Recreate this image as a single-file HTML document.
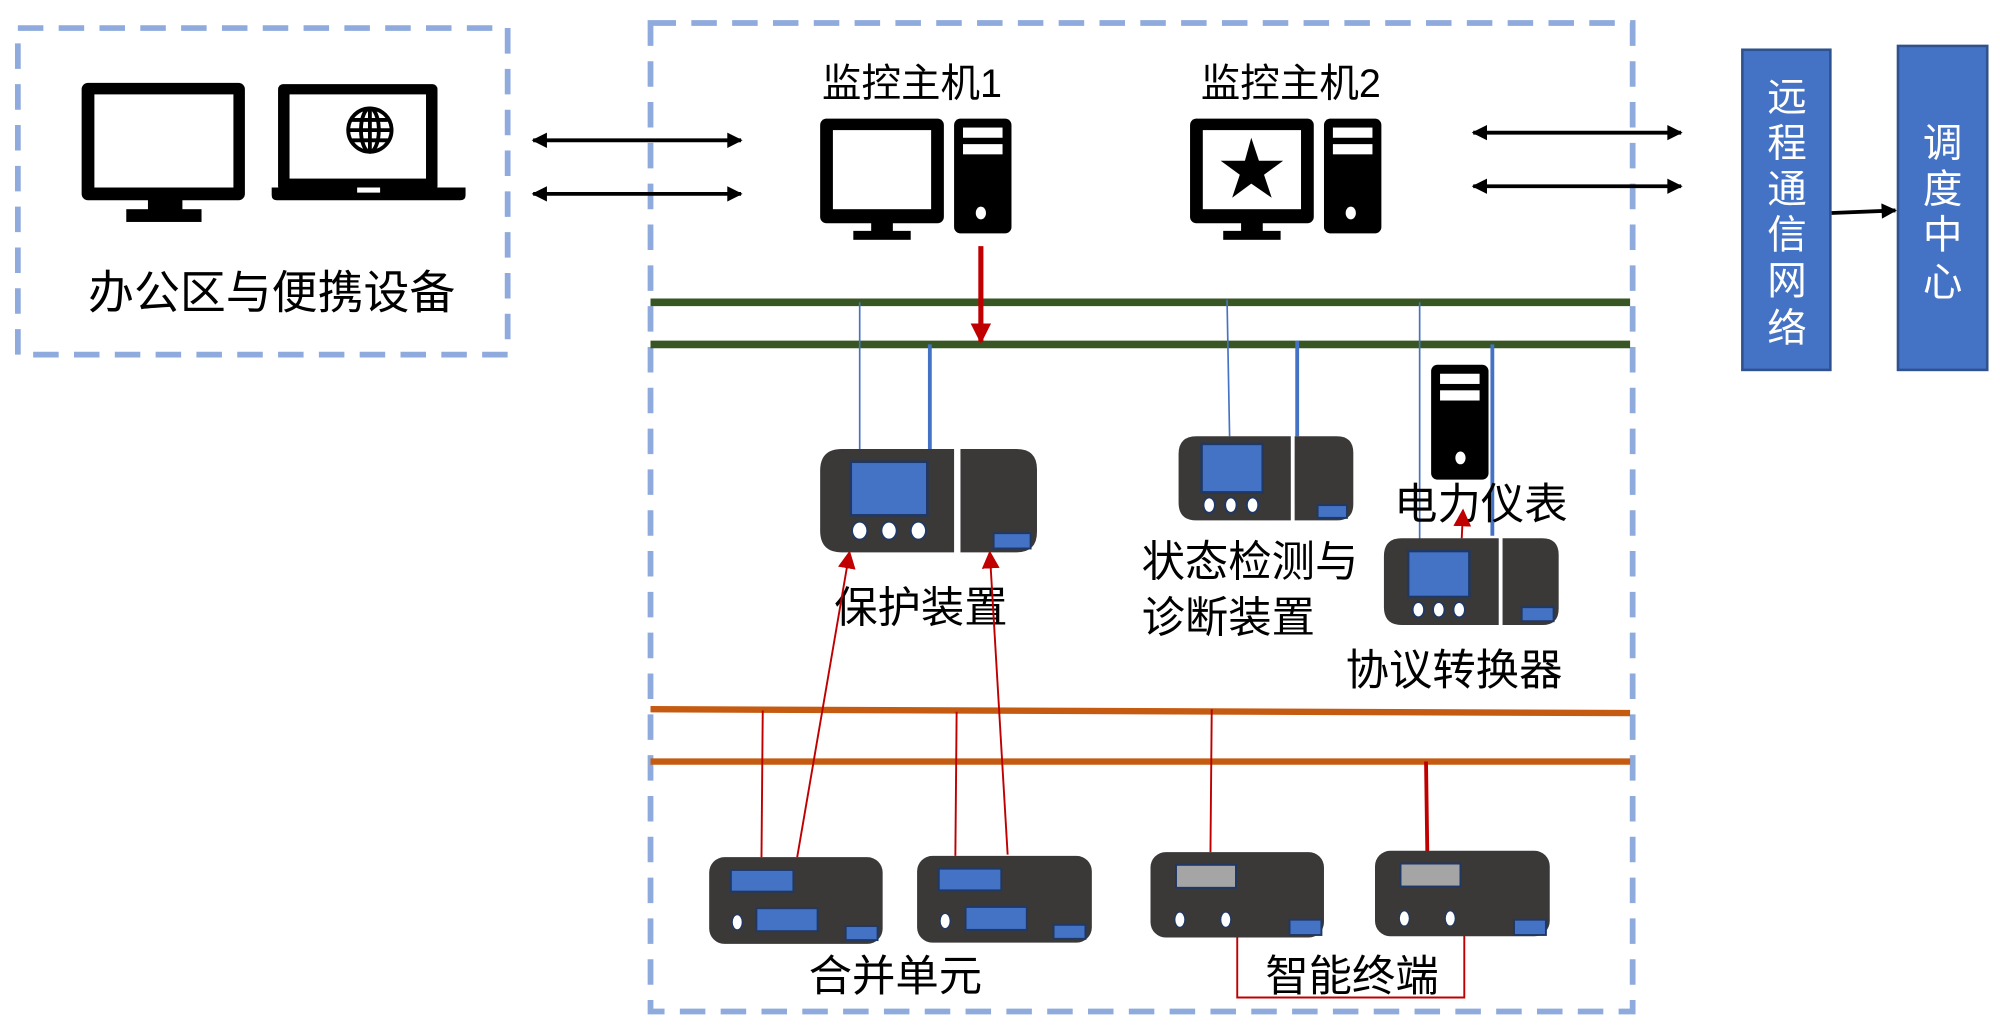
<!DOCTYPE html>
<html><head><meta charset="utf-8"><style>
html,body{margin:0;padding:0;background:#fff;width:2000px;height:1029px;overflow:hidden}
svg{display:block}
text{font-family:"Liberation Sans","Noto Sans CJK SC",sans-serif;fill:#000}
</style></head><body>
<svg width="2000" height="1029" viewBox="0 0 1568 806.7" preserveAspectRatio="none" xmlns="http://www.w3.org/2000/svg">
<defs>
<marker id="ab" viewBox="0 0 10 10" refX="9" refY="5" markerWidth="14" markerHeight="12" orient="auto-start-reverse" markerUnits="userSpaceOnUse"><path d="M0,0L10,5L0,10z" fill="#000"/></marker>
<marker id="ar2" viewBox="0 0 10 10" refX="9" refY="5" markerWidth="14" markerHeight="14" orient="auto" markerUnits="userSpaceOnUse"><path d="M0,0L10,5L0,10z" fill="#C00000"/></marker>
<marker id="ar3" viewBox="0 0 10 10" refX="9" refY="5" markerWidth="20" markerHeight="16" orient="auto" markerUnits="userSpaceOnUse"><path d="M0,0L10,5L0,10z" fill="#C00000"/></marker>
</defs>
<rect x="14" y="22" width="384" height="256" fill="none" stroke="#8FAADC" stroke-width="4.5" stroke-dasharray="20 12"/>
<rect x="510" y="18" width="770" height="775" fill="none" stroke="#8FAADC" stroke-width="4.5" stroke-dasharray="20 12"/>

<rect x="64" y="65" width="128" height="92" rx="5" fill="#000"/>
<rect x="74" y="74" width="109" height="73" fill="#fff"/>
<rect x="116" y="156" width="27" height="10" fill="#000"/>
<rect x="99" y="164" width="59" height="10" fill="#000"/>
<rect x="218" y="66" width="125" height="84" rx="4" fill="#000"/>
<rect x="227" y="74" width="107" height="66" fill="#fff"/>
<path d="M213,147 H365 V153 Q365,157 361,157 H217 Q213,157 213,153z" fill="#000"/>
<rect x="280" y="147" width="18" height="4" fill="#fff"/>
<g fill="none" stroke="#000" stroke-width="3">
<circle cx="290" cy="102" r="17"/><ellipse cx="290" cy="102" rx="7" ry="17"/><line x1="273" y1="102" x2="307" y2="102"/><line x1="276" y1="94" x2="304" y2="94"/><line x1="276" y1="110" x2="304" y2="110"/><line x1="290" y1="85" x2="290" y2="119"/>
</g>
<text x="213" y="242" font-size="36" text-anchor="middle">办公区与便携设备</text>

<line x1="418" y1="110" x2="581" y2="110" stroke="#000" stroke-width="3" marker-start="url(#ab)" marker-end="url(#ab)"/>
<line x1="418" y1="152" x2="581" y2="152" stroke="#000" stroke-width="3" marker-start="url(#ab)" marker-end="url(#ab)"/>
<line x1="1155" y1="104" x2="1318" y2="104" stroke="#000" stroke-width="3" marker-start="url(#ab)" marker-end="url(#ab)"/>
<line x1="1155" y1="146" x2="1318" y2="146" stroke="#000" stroke-width="3" marker-start="url(#ab)" marker-end="url(#ab)"/>

<text x="715" y="76" font-size="31" text-anchor="middle">监控主机1</text>
<text x="1012" y="76" font-size="31" text-anchor="middle">监控主机2</text>
<rect x="643" y="93" width="97" height="82" rx="5" fill="#000"/>
<rect x="653" y="102" width="77" height="62" fill="#fff"/>
<rect x="683" y="174" width="17" height="8" fill="#000"/>
<rect x="669" y="181" width="45" height="7" fill="#000"/>
<rect x="748" y="93" width="45" height="90" rx="5" fill="#000"/>
<rect x="755" y="100" width="31" height="8" fill="#fff"/>
<rect x="755" y="113" width="31" height="8" fill="#fff"/>
<ellipse cx="769" cy="167" rx="4" ry="5" fill="#fff"/>
<rect x="933" y="93" width="97" height="82" rx="5" fill="#000"/>
<rect x="943" y="102" width="77" height="62" fill="#fff"/>
<polygon points="981,108 987,126 1006,126 991,137 997,155 981,144 966,155 972,137 957,126 976,126" fill="#000"/>
<rect x="973" y="174" width="17" height="8" fill="#000"/>
<rect x="959" y="181" width="45" height="7" fill="#000"/>
<rect x="1038" y="93" width="45" height="90" rx="5" fill="#000"/>
<rect x="1045" y="100" width="31" height="8" fill="#fff"/>
<rect x="1045" y="113" width="31" height="8" fill="#fff"/>
<ellipse cx="1059" cy="167" rx="4" ry="5" fill="#fff"/>

<rect x="1366" y="39" width="69" height="251" fill="#4472C4" stroke="#2F528F" stroke-width="2"/>
<rect x="1488" y="36" width="70" height="254" fill="#4472C4" stroke="#2F528F" stroke-width="2"/>
<g font-size="31" text-anchor="middle">
<text x="1401" y="87" style="fill:#fff">远</text><text x="1401" y="123" style="fill:#fff">程</text><text x="1401" y="159" style="fill:#fff">通</text><text x="1401" y="195" style="fill:#fff">信</text><text x="1401" y="231" style="fill:#fff">网</text><text x="1401" y="268" style="fill:#fff">络</text>
<text x="1523" y="123" style="fill:#fff">调</text><text x="1523" y="159" style="fill:#fff">度</text><text x="1523" y="195" style="fill:#fff">中</text><text x="1523" y="232" style="fill:#fff">心</text>
</g>
<line x1="1436" y1="167" x2="1486" y2="165" stroke="#000" stroke-width="3" marker-end="url(#ab)"/>

<line x1="510" y1="237" x2="1278" y2="237" stroke="#375623" stroke-width="6"/>
<line x1="510" y1="270" x2="1278" y2="270" stroke="#375623" stroke-width="6"/>
<line x1="769" y1="193" x2="769" y2="268" stroke="#C00000" stroke-width="4" marker-end="url(#ar3)"/>

<g stroke="#4472C4">
<line x1="674" y1="237" x2="674" y2="352" stroke-width="1.3"/>
<line x1="729" y1="270" x2="729" y2="352" stroke-width="3"/>
<line x1="962" y1="235" x2="964" y2="342" stroke-width="1.3"/>
<line x1="1017" y1="267" x2="1017" y2="342" stroke-width="3"/>
<line x1="1113" y1="237" x2="1113" y2="423" stroke-width="1.3"/>
<line x1="1170" y1="270" x2="1170" y2="420" stroke-width="3"/>
</g>

<path d="M660,352 H748 V433 H660 Q643,433 643,416 V369 Q643,352 660,352z" fill="#3B3838"/>
<path d="M753,352 H797 Q813,352 813,368 V417 Q813,433 797,433 H753z" fill="#3B3838"/>
<rect x="667" y="362" width="60" height="42" fill="#4472C4" stroke="#1F3864" stroke-width="2"/>
<g fill="#fff" stroke="#1F3864" stroke-width="1.5"><ellipse cx="674" cy="416" rx="6" ry="7"/><ellipse cx="697" cy="416" rx="6" ry="7"/><ellipse cx="720" cy="416" rx="6" ry="7"/></g>
<rect x="779" y="418" width="29" height="12" fill="#4472C4" stroke="#1F3864" stroke-width="1.5"/>
<text x="722" y="488" font-size="34" text-anchor="middle">保护装置</text>

<path d="M938,342 H1012 V408 H938 Q924,408 924,394 V356 Q924,342 938,342z" fill="#3B3838"/>
<path d="M1015,342 H1048 Q1061,342 1061,355 V395 Q1061,408 1048,408 H1015z" fill="#3B3838"/>
<rect x="942" y="348" width="48" height="38" fill="#4472C4" stroke="#1F3864" stroke-width="2"/>
<g fill="#fff" stroke="#1F3864" stroke-width="1.5"><ellipse cx="948" cy="396" rx="4.5" ry="6"/><ellipse cx="965" cy="396" rx="4.5" ry="6"/><ellipse cx="982" cy="396" rx="4.5" ry="6"/></g>
<rect x="1033" y="396" width="23" height="10" fill="#4472C4" stroke="#1F3864" stroke-width="1.5"/>
<text x="895" y="452" font-size="34">状态检测与</text>
<text x="895" y="496" font-size="34">诊断装置</text>

<rect x="1122" y="286" width="45" height="90" rx="5" fill="#000"/>
<rect x="1129" y="293" width="31" height="8" fill="#fff"/>
<rect x="1129" y="306" width="31" height="8" fill="#fff"/>
<ellipse cx="1145" cy="359" rx="4" ry="5" fill="#fff"/>
<text x="1161" y="407" font-size="34" text-anchor="middle">电力仪表</text>
<line x1="1146" y1="422" x2="1147" y2="400" stroke="#C00000" stroke-width="1.5" marker-end="url(#ar2)"/>

<path d="M1099,422 H1175 V490 H1099 Q1085,490 1085,476 V436 Q1085,422 1099,422z" fill="#3B3838"/>
<path d="M1178,422 H1209 Q1222,422 1222,435 V477 Q1222,490 1209,490 H1178z" fill="#3B3838"/>
<rect x="1104" y="432" width="48" height="36" fill="#4472C4" stroke="#1F3864" stroke-width="2"/>
<g fill="#fff" stroke="#1F3864" stroke-width="1.5"><ellipse cx="1112" cy="478" rx="4.5" ry="6"/><ellipse cx="1128" cy="478" rx="4.5" ry="6"/><ellipse cx="1144" cy="478" rx="4.5" ry="6"/></g>
<rect x="1193" y="476" width="25" height="11" fill="#4472C4" stroke="#1F3864" stroke-width="1.5"/>
<text x="1140" y="537" font-size="34" text-anchor="middle">协议转换器</text>

<line x1="510" y1="556" x2="1278" y2="559" stroke="#C55A11" stroke-width="5"/>
<line x1="510" y1="597" x2="1278" y2="597" stroke="#C55A11" stroke-width="5"/>

<g stroke="#C00000" fill="none">
<line x1="598" y1="557" x2="597" y2="672" stroke-width="1.5"/>
<line x1="750" y1="558" x2="749" y2="671" stroke-width="1.5"/>
<line x1="950" y1="556" x2="949" y2="668" stroke-width="1.5"/>
<line x1="1118" y1="597" x2="1119" y2="668" stroke-width="3"/>
<line x1="625" y1="672" x2="666" y2="433" stroke-width="1.5" marker-end="url(#ar2)"/>
<line x1="790" y1="670" x2="776" y2="433" stroke-width="1.5" marker-end="url(#ar2)"/>
<polyline points="970,735 970,782 1148,782 1148,732" stroke-width="1.5"/>
</g>

<g>
<rect x="556" y="672" width="136" height="68" rx="12" fill="#3B3838"/>
<rect x="573" y="682" width="49" height="17" fill="#4472C4" stroke="#1F3864" stroke-width="1.5"/>
<rect x="593" y="712" width="48" height="18" fill="#4472C4" stroke="#1F3864" stroke-width="1.5"/>
<ellipse cx="578" cy="723" rx="4" ry="6" fill="#fff" stroke="#1F3864"/>
<rect x="663" y="726" width="25" height="11" fill="#4472C4" stroke="#1F3864" stroke-width="1.5"/>
</g>
<g>
<rect x="719" y="671" width="137" height="68" rx="12" fill="#3B3838"/>
<rect x="736" y="681" width="49" height="17" fill="#4472C4" stroke="#1F3864" stroke-width="1.5"/>
<rect x="757" y="711" width="48" height="18" fill="#4472C4" stroke="#1F3864" stroke-width="1.5"/>
<ellipse cx="741" cy="722" rx="4" ry="6" fill="#fff" stroke="#1F3864"/>
<rect x="826" y="725" width="25" height="11" fill="#4472C4" stroke="#1F3864" stroke-width="1.5"/>
</g>
<g>
<rect x="902" y="668" width="136" height="67" rx="12" fill="#3B3838"/>
<rect x="922" y="678" width="47" height="18" fill="#A5A5A5" stroke="#1F3864" stroke-width="1.5"/>
<ellipse cx="925" cy="721" rx="4" ry="6" fill="#fff" stroke="#1F3864"/>
<ellipse cx="961" cy="721" rx="4" ry="6" fill="#fff" stroke="#1F3864"/>
<rect x="1011" y="721" width="25" height="12" fill="#4472C4" stroke="#1F3864" stroke-width="1.5"/>
</g>
<g>
<rect x="1078" y="667" width="137" height="67" rx="12" fill="#3B3838"/>
<rect x="1098" y="677" width="47" height="18" fill="#A5A5A5" stroke="#1F3864" stroke-width="1.5"/>
<ellipse cx="1101" cy="720" rx="4" ry="6" fill="#fff" stroke="#1F3864"/>
<ellipse cx="1137" cy="720" rx="4" ry="6" fill="#fff" stroke="#1F3864"/>
<rect x="1187" y="721" width="25" height="12" fill="#4472C4" stroke="#1F3864" stroke-width="1.5"/>
</g>
<text x="702" y="777" font-size="34" text-anchor="middle">合并单元</text>
<text x="1060" y="777" font-size="34" text-anchor="middle">智能终端</text>
</svg>
</body></html>
